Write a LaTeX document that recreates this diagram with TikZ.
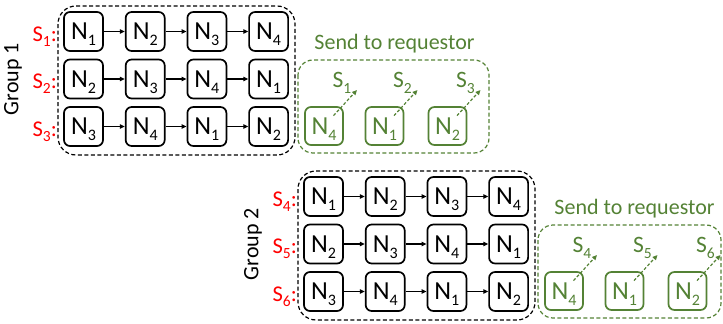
\documentclass[tikz,border=0pt]{standalone}
\usepackage{fontspec}
\setmainfont{Carlito}
\usepackage{xcolor}
\usepackage{tikz}
\usetikzlibrary{arrows.meta,positioning,calc}
\definecolor{sendgreen}{HTML}{548235}
\definecolor{slotred}{HTML}{FF0000}
\newcommand{\Nsub}[1]{N\raisebox{-0.22em}{\fontsize{16}{16}\selectfont #1}}
\newcommand{\Ssub}[1]{S\raisebox{-0.23em}{\fontsize{15.5}{16}\selectfont #1}}

\begin{document}
\begin{tikzpicture}[
  x=1pt, y=-1pt,
  nbox/.style={rectangle, draw, line width=1.7pt, rounded corners=6pt, minimum size=39pt, inner sep=0pt, text depth=0pt, font=\fontsize{26}{30}\selectfont},
  gbox/.style={nbox, draw=sendgreen, text=sendgreen, minimum size=38pt},
  slab/.style={text=slotred, anchor=east, inner sep=0pt, text depth=0pt, font=\fontsize{22.5}{26}\selectfont},
  glab/.style={text=sendgreen, inner sep=0pt, text depth=0pt, font=\fontsize{23.5}{27}\selectfont},
  gtitle/.style={text=sendgreen, inner sep=0pt, text depth=0pt, font=\fontsize{22}{26}\selectfont},
  grp/.style={rotate=90, inner sep=0pt, font=\fontsize{22}{26}\selectfont},
  frame/.style={draw, dash pattern=on 4pt off 2.5pt, line width=1.2pt, rounded corners=18pt},
  arr/.style={-{Triangle[length=5pt, width=4.5pt]}, line width=1.2pt},
  sarr/.style={-{Triangle[length=5pt, width=4.5pt]}, dash pattern=on 3pt off 2pt, line width=1.2pt, draw=sendgreen, shorten <=14pt}
]
\useasboundingbox (0,0) rectangle (723,324);

% Frames
\draw[frame] (58,6) rectangle (295,155);
\draw[frame] (298,171) rectangle (535,320);
\draw[frame, draw=sendgreen, rounded corners=15pt] (298,60) rectangle (489,153);
\draw[frame, draw=sendgreen, rounded corners=15pt] (538,225) rectangle (721,318);

% Group 1
\node[grp] (grp1) at (13,79) {Group 1};
\node[slab] (sa1) at (57,34) {\Ssub1:};
\node[slab] (sa2) at (57,81.5) {\Ssub2:};
\node[slab] (sa3) at (57,129) {\Ssub3:};

\node[nbox] (a11) at (83.5,31.5) {\Nsub1};
\node[nbox] (a12) at (145.2,31.5) {\Nsub2};
\node[nbox] (a13) at (206.9,31.5) {\Nsub3};
\node[nbox] (a14) at (268.6,31.5) {\Nsub4};
\node[nbox] (a21) at (83.5,79) {\Nsub2};
\node[nbox] (a22) at (145.2,79) {\Nsub3};
\node[nbox] (a23) at (206.9,79) {\Nsub4};
\node[nbox] (a24) at (268.6,79) {\Nsub1};
\node[nbox] (a31) at (83.5,126.5) {\Nsub3};
\node[nbox] (a32) at (145.2,126.5) {\Nsub4};
\node[nbox] (a33) at (206.9,126.5) {\Nsub1};
\node[nbox] (a34) at (268.6,126.5) {\Nsub2};
\draw[arr] (a11) -- (a12); \draw[arr] (a12) -- (a13); \draw[arr] (a13) -- (a14);
\draw[arr] (a21) -- (a22); \draw[arr] (a22) -- (a23); \draw[arr] (a23) -- (a24);
\draw[arr] (a31) -- (a32); \draw[arr] (a32) -- (a33); \draw[arr] (a33) -- (a34);

% Send to requestor 1
\node[gtitle] (senda) at (394.5,42) {Send to requestor};
\node[gbox] (ra1) at (324,126) {\Nsub4};
\node[gbox] (ra2) at (384.5,126) {\Nsub1};
\node[gbox] (ra3) at (447.5,126) {\Nsub2};
\node[glab] (ta1) at ($(ra1)+(18,-46)$) {\Ssub1};
\node[glab] (ta2) at ($(ra2)+(18,-46)$) {\Ssub2};
\node[glab] (ta3) at ($(ra3)+(18,-46)$) {\Ssub3};
\coordinate (ka1) at ($(ra1)+(33,-36)$);
\coordinate (ka2) at ($(ra2)+(33,-36)$);
\coordinate (ka3) at ($(ra3)+(33,-36)$);
\draw[sarr] (ra1.center) -- (ka1);
\draw[sarr] (ra2.center) -- (ka2);
\draw[sarr] (ra3.center) -- (ka3);

% Group 2
\node[grp] (grp2) at (253,244) {Group 2};
\node[slab] (sb1) at (297,199) {\Ssub4:};
\node[slab] (sb2) at (297,246.5) {\Ssub5:};
\node[slab] (sb3) at (297,294) {\Ssub6:};

\node[nbox] (b11) at (323.5,196.5) {\Nsub1};
\node[nbox] (b12) at (385.2,196.5) {\Nsub2};
\node[nbox] (b13) at (446.9,196.5) {\Nsub3};
\node[nbox] (b14) at (508.6,196.5) {\Nsub4};
\node[nbox] (b21) at (323.5,244) {\Nsub2};
\node[nbox] (b22) at (385.2,244) {\Nsub3};
\node[nbox] (b23) at (446.9,244) {\Nsub4};
\node[nbox] (b24) at (508.6,244) {\Nsub1};
\node[nbox] (b31) at (323.5,291.5) {\Nsub3};
\node[nbox] (b32) at (385.2,291.5) {\Nsub4};
\node[nbox] (b33) at (446.9,291.5) {\Nsub1};
\node[nbox] (b34) at (508.6,291.5) {\Nsub2};
\draw[arr] (b11) -- (b12); \draw[arr] (b12) -- (b13); \draw[arr] (b13) -- (b14);
\draw[arr] (b21) -- (b22); \draw[arr] (b22) -- (b23); \draw[arr] (b23) -- (b24);
\draw[arr] (b31) -- (b32); \draw[arr] (b32) -- (b33); \draw[arr] (b33) -- (b34);

% Send to requestor 2
\node[gtitle] (sendb) at (634.5,207) {Send to requestor};
\node[gbox] (rb1) at (564,291) {\Nsub4};
\node[gbox] (rb2) at (624.5,291) {\Nsub1};
\node[gbox] (rb3) at (687.5,291) {\Nsub2};
\node[glab] (tb1) at ($(rb1)+(18,-46)$) {\Ssub4};
\node[glab] (tb2) at ($(rb2)+(18,-46)$) {\Ssub5};
\node[glab] (tb3) at ($(rb3)+(18,-46)$) {\Ssub6};
\coordinate (kb1) at ($(rb1)+(33,-36)$);
\coordinate (kb2) at ($(rb2)+(33,-36)$);
\coordinate (kb3) at ($(rb3)+(33,-36)$);
\draw[sarr] (rb1.center) -- (kb1);
\draw[sarr] (rb2.center) -- (kb2);
\draw[sarr] (rb3.center) -- (kb3);

\end{tikzpicture}
\end{document}
